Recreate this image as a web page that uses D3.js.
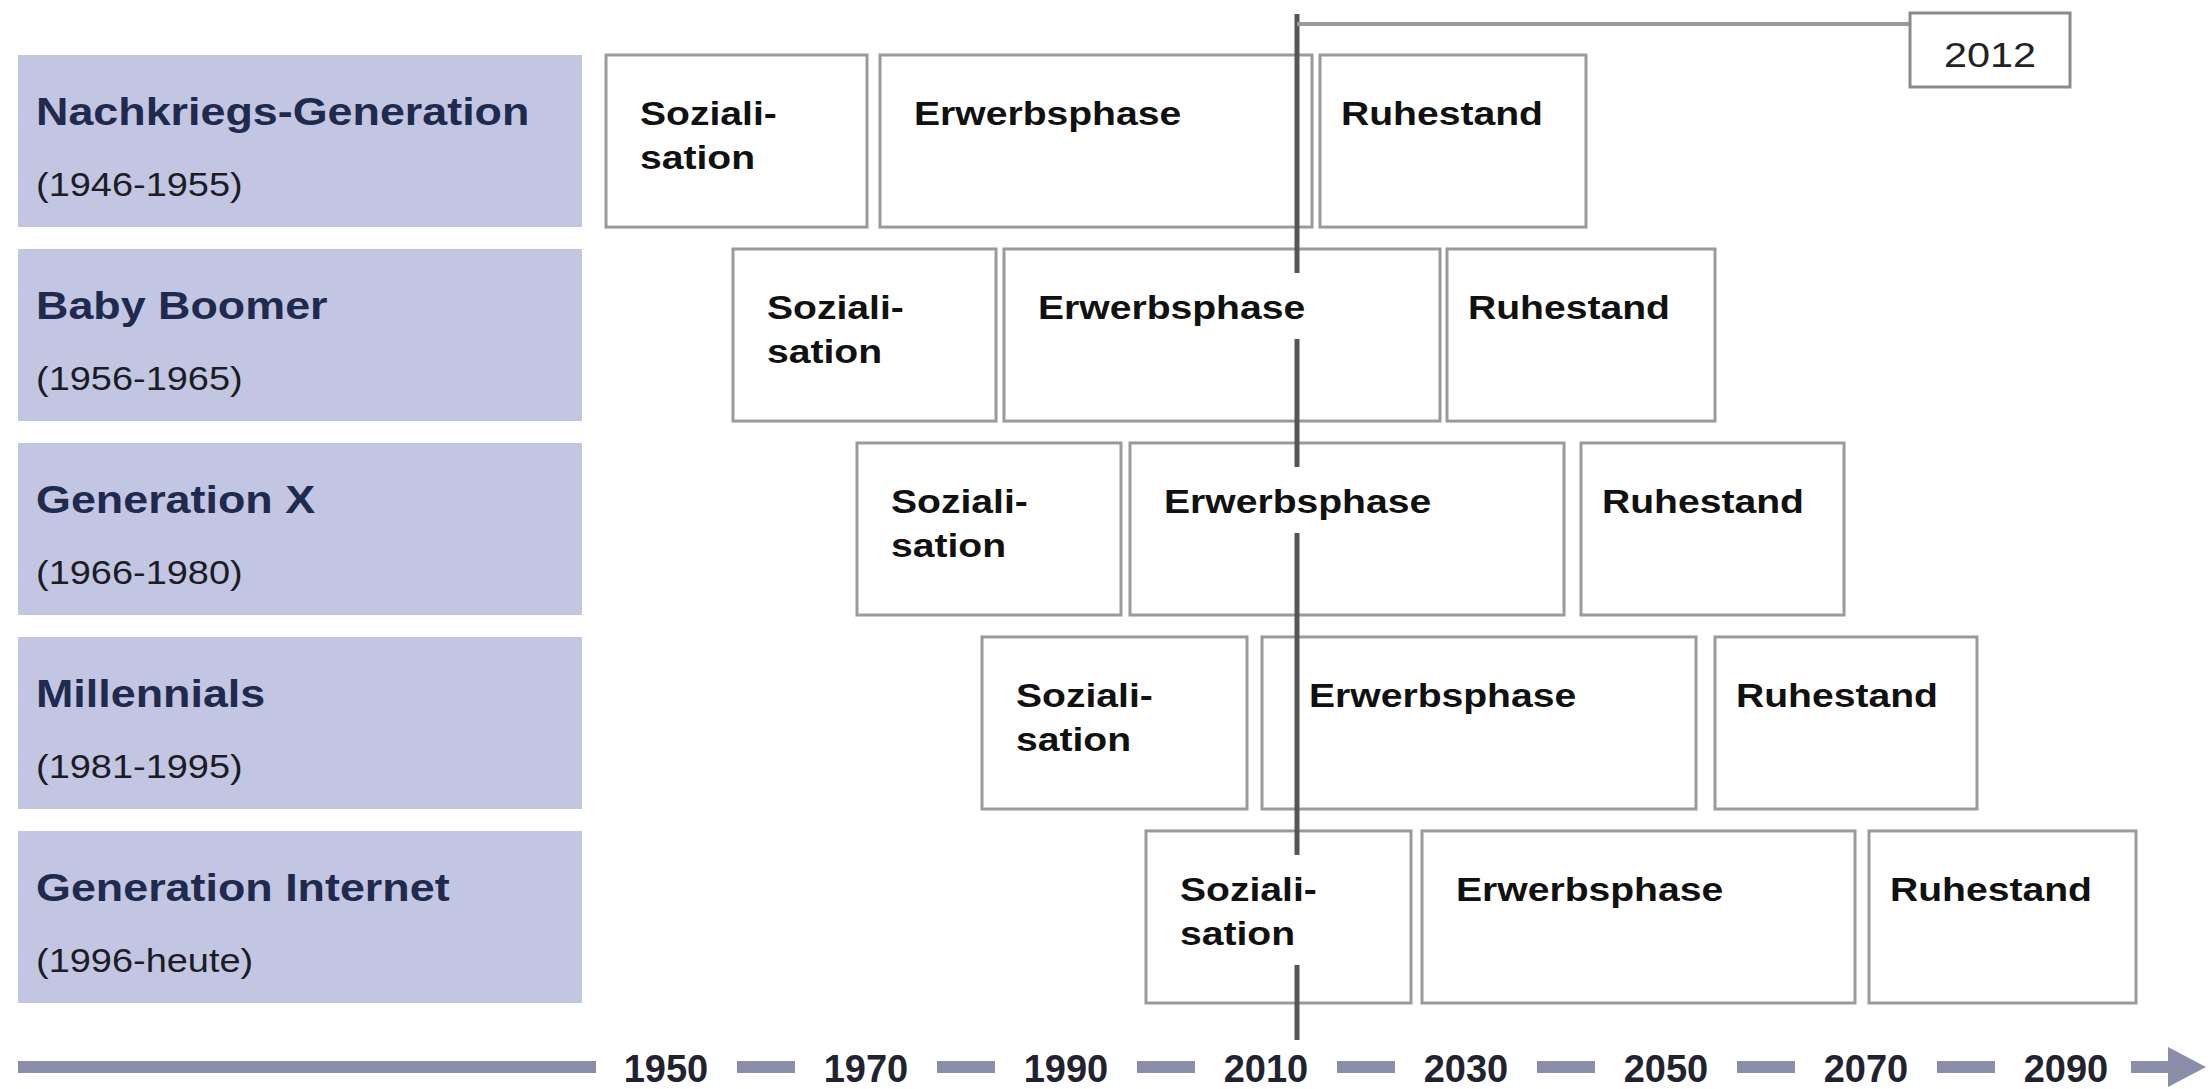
<!DOCTYPE html>
<html><head><meta charset="utf-8">
<script src="https://cdn.jsdelivr.net/npm/d3@7"></script>
<style>html,body{margin:0;padding:0;background:#fff;} svg{display:block;}</style>
</head><body><svg id="chart" width="2209" height="1089"></svg>
<script>
// ---- data ----
const generations = ["Nachkriegs-Generation", "Baby Boomer", "Generation X", "Millennials", "Generation Internet"];
const birthYears = ["(1946-1955)", "(1956-1965)", "(1966-1980)", "(1981-1995)", "(1996-heute)"];
const phaseNames = ["Soziali-\nsation", "Erwerbsphase", "Ruhestand"];
const sozialisationStart = [1942.9, 1955.6, 1968.0, 1980.5, 1996.9];
const sozialisationEnd   = [1969.0, 1981.9, 1994.4, 2007.0, 2023.4];
const erwerbStart        = [1970.3, 1982.7, 1995.3, 2008.5, 2024.5];
const erwerbEnd          = [2013.5, 2026.3, 2038.7, 2051.9, 2067.8];
const ruhestandStart     = [2014.3, 2027.0, 2040.4, 2053.8, 2069.2];
const ruhestandEnd       = [2040.9, 2053.8, 2066.7, 2080.0, 2095.9];
const tickYears = [1950, 1970, 1990, 2010, 2030, 2050, 2070, 2090];
const stichjahr = 2012;

// ---- layout ----
const W = 2209, H = 1089;
const SX = 1.15; // horizontal text stretch of the original
const FONT = "'Liberation Sans', Arial, Helvetica, sans-serif";
const svg = d3.select("#chart");

const x = d3.scaleLinear().domain([1950, 2090]).range([677, 2077]);
const y = d3.scaleBand().domain(generations).range([55, 1003]).paddingInner(0.113).paddingOuter(0);
const bw = y.bandwidth();
const lx = x(stichjahr);

const rows = generations.map((g, i) => ({
  gen: g, years: birthYears[i],
  phases: [
    {name: phaseNames[0], start: sozialisationStart[i], end: sozialisationEnd[i], pad: 34},
    {name: phaseNames[1], start: erwerbStart[i], end: erwerbEnd[i], pad: 34},
    {name: phaseNames[2], start: ruhestandStart[i], end: ruhestandEnd[i], pad: 21}
  ]
}));

const gLabels = svg.append("g");
const gBoxes = svg.append("g");
const gLine = svg.append("g");
const gFrames = svg.append("g");
const gText = svg.append("g");
const gAxis = svg.append("g");

function stretchedText(sel, tx, ty, str, size, weight, fill, anchor) {
  return sel.append("text")
    .attr("transform", `translate(${tx},${ty}) scale(${SX},1)`)
    .attr("font-family", FONT).attr("font-size", size).attr("font-weight", weight)
    .attr("fill", fill).attr("text-anchor", anchor || "start")
    .text(str);
}

// label boxes
rows.forEach(r => {
  const top = y(r.gen);
  gLabels.append("rect").attr("x", 18).attr("y", top).attr("width", 564).attr("height", bw)
    .attr("fill", "#c2c6e2");
  stretchedText(gLabels, 36, top + 70, r.gen, 39, "bold", "#1f2a4e");
  stretchedText(gLabels, 36, top + 141, r.years, 33, "normal", "#1c1c24");
});

// phase boxes
rows.forEach(r => {
  const top = y(r.gen);
  gBoxes.selectAll(null).data(r.phases).enter().append("rect")
    .attr("x", d => x(d.start)).attr("y", top)
    .attr("width", d => x(d.end) - x(d.start)).attr("height", bw)
    .attr("fill", "#fff").attr("stroke", "#9a9a9a").attr("stroke-width", 3);
});

// reference year line + label
gLine.append("line").attr("x1", lx).attr("x2", lx).attr("y1", 14).attr("y2", 1040)
  .attr("stroke", "#555").attr("stroke-width", 5);
const yearBox = {x: 1910, y: 13, w: 160, h: 74};
gLine.append("line").attr("x1", lx).attr("x2", yearBox.x).attr("y1", 24).attr("y2", 24)
  .attr("stroke", "#9a9a9a").attr("stroke-width", 4);
gLine.append("rect").attr("x", yearBox.x).attr("y", yearBox.y).attr("width", yearBox.w).attr("height", yearBox.h)
  .attr("fill", "#fff").attr("stroke", "#8a8a8a").attr("stroke-width", 3);
stretchedText(gLine, yearBox.x + yearBox.w / 2, yearBox.y + 54, String(stichjahr), 36, "normal", "#222", "middle");

// phase texts with white text frames (they hide the year line)
rows.forEach(r => {
  const top = y(r.gen);
  r.phases.forEach(p => {
    let tx = x(p.start) + p.pad;
    // keep text clear of the year line if the line would cut its first letter
    if (lx > tx - 12 && lx < tx + 20) tx = lx + 12;
    const lines = p.name.split("\n");
    let maxW = 0;
    lines.forEach((ln, k) => {
      const t = stretchedText(gText, tx, top + 70 + k * 44, ln, 34, "bold", "#111");
      maxW = Math.max(maxW, t.node().getComputedTextLength() * SX);
    });
    const b1 = top + 70, bl = top + 70 + (lines.length - 1) * 44;
    gFrames.append("rect").attr("x", tx - 4).attr("y", b1 - 46)
      .attr("width", maxW + 10).attr("height", bl + 20 - (b1 - 46)).attr("fill", "#fff");
  });
});

// bottom time axis
const ay = 1067, th = 12, barColor = "#8a8ea8";
gAxis.append("rect").attr("x", 18).attr("y", ay - th / 2).attr("width", x(1950) - 81 - 18).attr("height", th)
  .attr("fill", barColor);
const mids = d3.pairs(tickYears).map(([a, b]) => (a + b) / 2);
gAxis.selectAll(".dash").data(mids).enter().append("rect")
  .attr("x", d => x(d - 2.9) - 11).attr("y", ay - th / 2)
  .attr("width", d => x(d + 2.9) - x(d - 2.9)).attr("height", th).attr("fill", barColor);
gAxis.append("rect").attr("x", x(2096.5) - 11).attr("y", ay - th / 2)
  .attr("width", x(2100.5) - x(2096.5)).attr("height", th).attr("fill", barColor);
gAxis.append("path")
  .attr("d", `M${x(2100.2) - 11},${ay - 20} L${x(2104) - 11},${ay} L${x(2100.2) - 11},${ay + 20} Z`)
  .attr("fill", barColor);
gAxis.selectAll(".tick").data(tickYears).enter().append("text")
  .attr("x", d => x(d)).attr("dx", -11).attr("y", 1082)
  .attr("text-anchor", "middle").attr("font-family", FONT).attr("font-size", 38)
  .attr("font-weight", "bold").attr("fill", "#22232e")
  .text(d => d);
</script></body></html>
